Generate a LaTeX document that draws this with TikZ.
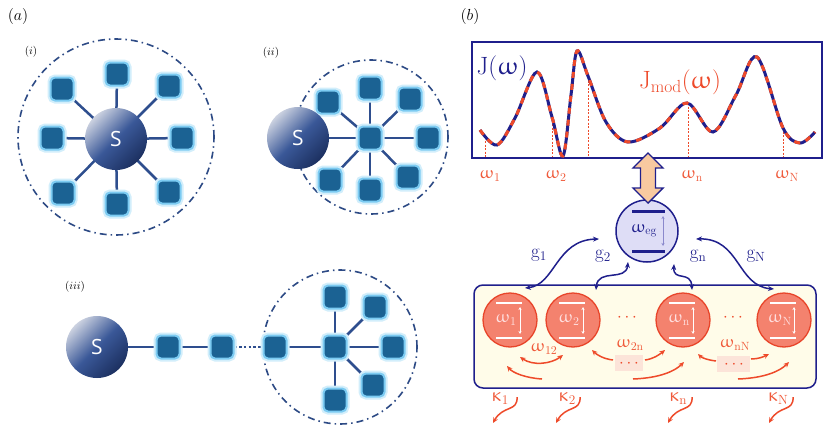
\documentclass[tikz,border=0pt]{standalone}
\usepackage{fix-cm}
\usepackage{fontspec}
\newfontfamily\sfS{Open Sans}
\DeclareSymbolFont{eul}{U}{eur}{m}{n}
\DeclareMathSymbol{\eomega}{\mathord}{eul}{"21}
\DeclareMathSymbol{\ekappa}{\mathord}{eul}{"14}
\usetikzlibrary{arrows.meta,backgrounds,calc}
\definecolor{sqfill}{HTML}{1B6293}
\definecolor{glowA}{HTML}{7CCBF2}
\definecolor{glowB}{HTML}{D2EEFB}
\definecolor{lineC}{HTML}{2E4E8E}
\definecolor{envC}{HTML}{2D4A85}
\definecolor{sphL}{HTML}{CBD1E0}
\definecolor{sphM}{HTML}{3A5898}
\definecolor{sphD}{HTML}{1C3060}
\definecolor{navy}{HTML}{1F1F8C}
\definecolor{redC}{HTML}{EE4A2A}
\definecolor{labred}{HTML}{F05A3A}
\definecolor{peach}{HTML}{F8C9A0}
\definecolor{qfill}{HTML}{DEDDF6}
\definecolor{cavfill}{HTML}{F4826E}
\definecolor{cavdraw}{HTML}{E8452A}
\definecolor{cream}{HTML}{FFFCE9}
\definecolor{pinkbg}{HTML}{FCE4D9}
\definecolor{lav}{HTML}{8A88CC}
\tikzset{
 sq/.style={rounded corners=4.5pt, minimum size=23pt, inner sep=0pt, fill=sqfill, draw=glowA, line width=2pt, preaction={draw=glowB, line width=6pt}},
 sphere/.style={circle, minimum size=62pt, inner sep=0pt, top color=sphL, bottom color=sphD, middle color=sphM, shading angle=45, text=white, font=\sfS\fontsize{21}{21}\selectfont},
 link/.style={draw=lineC, line width=2.5pt},
 dotlink/.style={draw=lineC, line width=2.5pt, dash pattern=on 2.5pt off 2.2pt},
 envline/.style={draw=envC, line width=1.6pt, dash pattern=on 7pt off 4pt on 1.5pt off 4pt},
 lab/.style={inner sep=0pt, font=\fontsize{17}{17}\selectfont},
 glab/.style={inner sep=0pt, font=\fontsize{19}{19}\selectfont},
 plab/.style={inner sep=0pt, font=\fontsize{16}{16}\selectfont},
 sublab/.style={inner sep=0pt, font=\fontsize{11}{11}\selectfont},
 bigtxt/.style={inner sep=0pt, font=\fontsize{25}{25}\selectfont},
 wtxt/.style={inner sep=0pt, font=\fontsize{17}{17}\selectfont},
 cav/.style={circle, minimum size=54pt, inner sep=0pt, fill=cavfill, draw=cavdraw, line width=1.3pt},
 wbar/.style={draw=white, line width=2.5pt},
 garrow/.style={draw=navy, line width=1.5pt, {Stealth[length=6pt,width=5pt]}-{Stealth[length=6pt,width=5pt]}},
 rarrow/.style={draw=redC, line width=1.5pt, -{Stealth[length=5.5pt,width=5pt]}},
 rdarrow/.style={draw=redC, line width=1.5pt, {Stealth[length=5.5pt,width=5pt]}-{Stealth[length=5.5pt,width=5pt]}},
 vdash/.style={draw=redC, line width=0.7pt, dash pattern=on 2pt off 1.5pt},
}
\begin{document}
\begin{tikzpicture}[x=1pt,y=-1pt]
\useasboundingbox (0,0) rectangle (830,439);

% ---------------- panel (a) ----------------
\node[plab] (la) at (18,16) {$(a)$};
\node[sublab] (li) at (31,52) {$(i)$};
\node[sublab] (lii) at (271,53) {$(ii)$};
\node[sublab] (liii) at (75,287) {$(iii)$};

% (i)
\node[sphere] (S1) at (116,139) {S};
\node[sq] (a1) at (117,74) {};
\node[sq] (a2) at (169,86) {};
\node[sq] (a3) at (182,138) {};
\node[sq] (a4) at (169,192) {};
\node[sq] (a5) at (117,204) {};
\node[sq] (a6) at (63,193) {};
\node[sq] (a7) at (52,138) {};
\node[sq] (a8) at (62,89) {};

% (ii)
\node[sq] (c2) at (370,138) {};
\node[sq] (b1) at (370,88) {};
\node[sq] (b2) at (410,99) {};
\node[sq] (b3) at (428,138) {};
\node[sq] (b4) at (408,177) {};
\node[sq] (b5) at (370,190) {};
\node[sq] (b6) at (330,180) {};
\node[sq] (b7) at (328,102) {};
\node[sphere] (S2) at (298,138) {S};

% (iii)
\node[sphere] (S3) at (97,347) {S};
\node[sq] (d1) at (168,347) {};
\node[sq] (d2) at (222,347) {};
\node[sq] (d3) at (275,347) {};
\node[sq] (c3) at (335,347) {};
\node[sq] (e1) at (335,297) {};
\node[sq] (e2) at (375,307) {};
\node[sq] (e3) at (393,347) {};
\node[sq] (e4) at (373,385) {};
\node[sq] (e5) at (335,400) {};

\begin{scope}[on background layer]
 \fill[white] (0,0) rectangle (830,439);
 \draw[envline] (116,137) circle (98pt);
 \draw[envline] (371,137) circle (77pt);
 \draw[envline] (340,347) circle (77pt);
 \foreach \n in {a1,a2,a3,a4,a5,a6,a7,a8} \draw[link] (S1.center) -- (\n.center);
 \foreach \n in {b1,b2,b3,b4,b5,b6,b7} \draw[link] (c2.center) -- (\n.center);
 \draw[link] (S2.center) -- (c2.center);
 \foreach \n in {e1,e2,e3,e4,e5} \draw[link] (c3.center) -- (\n.center);
 \draw[link] (S3.center) -- (d1.center) -- (d2.center);
 \draw[dotlink] (d2.east) -- (d3.west);
 \draw[link] (d3.center) -- (c3.center);
\end{scope}

% ---------------- panel (b) ----------------
\node[plab] (lb) at (470,16) {$(b)$};

\node[draw=navy, line width=2pt, minimum width=350pt, minimum height=116pt, inner sep=0pt] (JB) at (647,100) {};
\draw[vdash] (485,141) -- (485,157);
\draw[vdash] (552,117) -- (552,157);
\draw[vdash] (588,77) -- (588,157);
\draw[vdash] (688,103) -- (688,157);
\draw[vdash] (783,128) -- (783,157);
\def\spec{(480,130) (497,145) (515,118) (537,72) (552,117) (563,156) (571,95) (577,51) (588,76) (606,122) (628,142) (660,128) (687,103) (713,132) (736,95) (757,57) (783,128) (800,143) (815,132)}
\draw[navy, line width=3pt] plot[smooth, tension=0.55] coordinates {\spec};
\draw[redC, line width=3pt, dash pattern=on 6pt off 6pt] plot[smooth, tension=0.55] coordinates {\spec};
\node[bigtxt, text=navy] (J) at (502,68) {$\mathrm{J}(\eomega)$};
\node[bigtxt, text=redC] (Jm) at (680,82) {$\mathrm{J}_{\mathrm{mod}}(\eomega)$};
\node[lab, text=labred] (w1) at (490,176) {$\eomega_1$};
\node[lab, text=labred] (w2) at (556,176) {$\eomega_2$};
\node[lab, text=labred] (wn) at (692,176) {$\eomega_{\mathrm{n}}$};
\node[lab, text=labred] (wN) at (787,176) {$\eomega_{\mathrm{N}}$};

% qubit
\node[circle, minimum size=62pt, inner sep=0pt, fill=qfill, draw=navy, line width=1.5pt] (Q) at (647,231) {};
\draw[navy, line width=3pt] (632,211) -- (665,211);
\draw[navy, line width=3pt] (632,251) -- (665,251);
\draw[lav, line width=0.6pt, {Stealth[length=3pt,width=3pt]}-{Stealth[length=3pt,width=3pt]}] (663,216) -- (663,246);
\node[wtxt, text=navy] (weg) at (644,231) {$\eomega_{\mathrm{eg}}$};

% double arrow
\draw[navy, line width=1.4pt, fill=peach, line join=miter]
 (648,153) -- (663,168) -- (655.5,168) -- (655.5,188) -- (663,188) -- (648,203)
 -- (633,188) -- (640.5,188) -- (640.5,168) -- (633,168) -- cycle;

% cavity box
\node[draw=navy, line width=1.5pt, fill=cream, rounded corners=9pt, minimum width=342pt, minimum height=103pt, inner sep=0pt] (CB) at (645,336.5) {};
\fill[pinkbg] (615,355) rectangle (643,371);
\fill[pinkbg] (717,356) rectangle (750,372);

\foreach \nm/\cx/\lb in {C1/510/1, C2/573/2, Cn/683/\mathrm{n}, CN/784/\mathrm{N}}{
 \node[cav] (\nm) at (\cx,320) {};
 \draw[wbar] (\cx-14,303) -- (\cx+12,303);
 \draw[wbar] (\cx-14,338) -- (\cx+12,338);
 \draw[white, line width=0.7pt, {Stealth[length=3pt,width=3pt]}-{Stealth[length=3pt,width=3pt]}] (\cx+10,307) -- (\cx+10,334);
 \node[wtxt, text=white!88!red] (L\nm) at (\cx-4,320) {$\eomega_{\lb}$};
}
\node[lab, text=redC] (dots1) at (627,318) {$\cdots$};
\node[lab, text=redC] (dots2) at (733,318) {$\cdots$};

% couplings
\coordinate (g1a) at (525,288); \coordinate (g1b) at (599,239);
\coordinate (g2a) at (596,290); \coordinate (g2b) at (628,262);
\coordinate (gna) at (692,290); \coordinate (gnb) at (674,264);
\coordinate (gNa) at (774,289); \coordinate (gNb) at (696,239);
\draw[garrow] (g1a) .. controls (555,285) and (556,240) .. (g1b);
\draw[garrow] (g2a) .. controls (598,268) and (626,282) .. (g2b);
\draw[garrow] (gna) .. controls (691,270) and (673,282) .. (gnb);
\draw[garrow] (gNb) .. controls (740,238) and (737,286) .. (gNa);
\node[glab, text=navy] (g1) at (539,255) {$\mathrm{g}_1$};
\node[glab, text=navy] (g2) at (603,256) {$\mathrm{g}_2$};
\node[glab, text=navy] (gn) at (698,256) {$\mathrm{g}_{\mathrm{n}}$};
\node[glab, text=navy] (gN) at (756,256) {$\mathrm{g}_{\mathrm{N}}$};

% inter-cavity couplings
\node[lab, text=labred] (w12) at (544,349) {$\eomega_{12}$};
\node[lab, text=labred] (w2n) at (630,345) {$\eomega_{2\mathrm{n}}$};
\node[lab, text=labred] (wnN) at (735,345) {$\eomega_{\mathrm{nN}}$};
\node[wtxt, text=redC] (d2n) at (629,364) {$\cdots$};
\node[wtxt, text=redC] (dnN) at (734,365) {$\cdots$};
\draw[rdarrow] (520,357) .. controls (533,366) and (551,364) .. (563,355);
\draw[rarrow] (613,360) .. controls (604,359) and (597,355) .. (592,350);
\draw[rarrow] (645,360) .. controls (653,359) and (659,355) .. (665,350);
\draw[rarrow] (716,361) .. controls (708,360) and (702,358) .. (698,354);
\draw[rarrow] (751,359) .. controls (758,359) and (763,357) .. (769,354);
\draw[rarrow] (542,379) .. controls (526,378) and (513,373) .. (507,366);
\draw[rarrow] (633,379) .. controls (660,378) and (675,371) .. (684,362);
\draw[rarrow] (738,379) .. controls (765,378) and (780,371) .. (789,362);

% losses
\foreach \nm/\lx/\ax/\lb in {k1/500/517/1, k2/567/580/2, kn/678/692/\mathrm{n}, kN/778/793/\mathrm{N}}{
 \node[glab, text=labred] (\nm) at (\lx,399) {$\ekappa_{\lb}$};
 \draw[rarrow] (\ax,397) .. controls (\ax+1,412) and (\ax-14,405) .. (\ax-24,423);
}
\end{tikzpicture}
\end{document}
